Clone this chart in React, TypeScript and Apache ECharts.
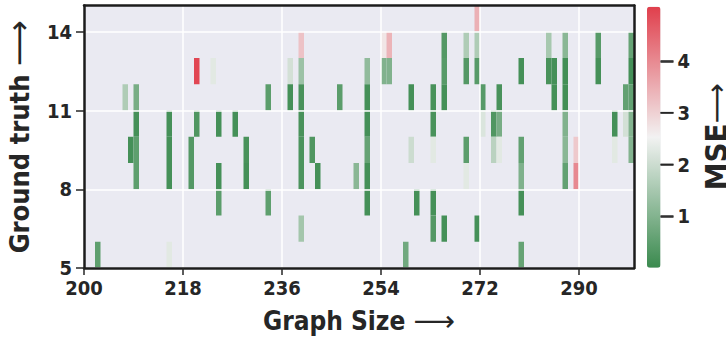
import React, { useEffect, useRef } from "react";
import * as echarts from "echarts";

// Each cell: graph size (x), ground truth (y), MSE (colour)
const graphSize = [
  202, 207, 208, 209, 209, 209, 209, 215, 215, 215, 215, 219, 219, 220, 220, 223,
  224, 224, 224, 227, 229, 229, 233, 233, 237, 237, 239, 239, 239, 239, 239, 239,
  239, 241, 242, 246, 249, 251, 251, 251, 251, 251, 251, 254, 254, 255, 255, 258,
  259, 259, 260, 263, 263, 263, 263, 263, 265, 265, 265, 265, 269, 269, 269, 269,
  271, 271, 271, 271, 272, 272, 274, 274, 275, 275, 275, 279, 279, 279, 279, 279,
  284, 284, 285, 285, 287, 287, 287, 287, 287, 287, 289, 289, 293, 293, 296, 296,
  298, 298, 299, 299, 299, 299, 299,
];
const groundTruth = [
  5, 11, 9, 11, 10, 9, 8, 10, 9, 8, 5, 9, 8, 12, 10, 12,
  10, 8, 7, 10, 9, 8, 11, 7, 12, 11, 13, 12, 11, 10, 9, 8,
  6, 9, 8, 11, 8, 12, 11, 10, 9, 8, 7, 13, 12, 13, 12, 5,
  11, 9, 7, 11, 10, 9, 7, 6, 13, 12, 11, 6, 13, 12, 9, 8,
  14, 13, 12, 6, 11, 10, 10, 9, 11, 10, 9, 12, 9, 8, 7, 5,
  13, 12, 12, 11, 13, 12, 11, 10, 9, 8, 9, 8, 13, 12, 10, 9,
  11, 10, 13, 12, 11, 10, 9,
];
const mseValues = [
  0.5, 1.6, 0.15, 0.85, 0.15, 0.5, 0.5, 0.15, 0.15, 0.15, 2.3, 0.35, 0.35, 4.95, 0.3, 2.3,
  0.15, 0.15, 0.45, 0.15, 0.2, 0.15, 0.45, 0.5, 2.1, 0.15, 3.2, 1.35, 0.2, 0.2, 0.25, 0.25,
  1.45, 0.3, 0.15, 0.45, 1.1, 1.2, 0.15, 0.15, 0.6, 0.15, 0.15, 2.7, 0.97, 3.4, 0.97, 0.75,
  0.15, 2.0, 0.15, 0.2, 0.2, 2.3, 0.15, 0.35, 0.35, 0.4, 0.15, 0.15, 1.6, 0.35, 0.45, 2.3,
  3.45, 1.6, 0.4, 0.15, 0.4, 2.2, 0.3, 1.75, 0.2, 0.85, 2.3, 0.15, 0.55, 0.95, 0.15, 0.6,
  1.5, 0.2, 0.15, 0.15, 1.1, 0.12, 0.12, 0.97, 1.1, 0.55, 3.1, 4.0, 0.4, 0.15, 0.15, 2.3,
  0.55, 2.1, 0.6, 0.15, 0.55, 1.0, 1.0,
];

const xTicks = [200, 218, 236, 254, 272, 290];
const yTicks = [5, 8, 11, 14];
const colorbarTicks = [1, 2, 3, 4];
const xRange = [200, 300];
const yRange = [5, 15];
const mseRange = [0, 5.05];
const mseAxisRange = [0, 5.08];

const FONT = "'DejaVu Sans Condensed', 'Liberation Sans Narrow', 'DejaVu Sans', sans-serif";
const ARROW_FONT = "'DejaVu Sans', sans-serif";
const INK = "#262626";

// colour-bar layout
const BAR_LEFT = 647;
const BAR_TOP = 6.7;
const BAR_W = 13.5;
const BAR_H = 261;

export default function App() {
  const ref = useRef<HTMLDivElement>(null);

  useEffect(() => {
    if (!ref.current) return;
    const chart = echarts.init(ref.current, undefined, { renderer: "svg" });
    const data = graphSize.map((x, i) => [x, groundTruth[i], mseValues[i]]);

    const labelStyle = { fontFamily: FONT, fontWeight: "bold", fontSize: 20, color: INK };
    const frameLine = { show: true, lineStyle: { color: "#1c1c1c", width: 2.5 } };

    // tick marks of the colour bar, placed on the colour bar's own value scale
    const barTicks = colorbarTicks.map((v) => {
      const frac = (v - mseRange[0]) / (mseRange[1] - mseRange[0]);
      const py = BAR_TOP + BAR_H * (1 - frac);
      return {
        type: "rect",
        z: 100,
        silent: true,
        shape: { x: BAR_LEFT + BAR_W, y: py - 0.75, width: 13, height: 1.5 },
        style: { fill: INK },
      };
    });

    chart.setOption({
      animation: false,
      grid: [
        {
          left: 84, right: 92, top: 5.5, bottom: 69, show: true, backgroundColor: "#eaeaf2", borderWidth: 0,
          containLabel: false, outerBoundsMode: "none",
        },
      ],
      xAxis: [
        {
          type: "value", gridIndex: 0, min: xRange[0], max: xRange[1], position: "bottom", z: 10,
          axisLine: frameLine,
          axisTick: { show: true, length: 7, lineStyle: { color: INK, width: 1.5 }, customValues: xTicks },
          axisLabel: { ...labelStyle, margin: 10, customValues: xTicks },
          splitLine: { show: true, lineStyle: { color: "#ffffff", width: 1.5 } },
          name: "{t|Graph Size }{a|⟶}",
          nameLocation: "middle",
          nameGap: 41,
          nameTextStyle: {
            rich: {
              t: { fontFamily: FONT, fontWeight: "bold", fontSize: 26, color: INK, lineHeight: 24 },
              a: { fontFamily: ARROW_FONT, fontWeight: "normal", fontSize: 29, color: INK, lineHeight: 24 },
            },
          },
        },
        {
          type: "value", gridIndex: 0, min: xRange[0], max: xRange[1], position: "top", z: 10,
          axisLine: frameLine, axisTick: { show: false }, axisLabel: { show: false }, splitLine: { show: false },
        },
      ],
      yAxis: [
        {
          type: "value", gridIndex: 0, min: yRange[0], max: yRange[1], position: "left", z: 10,
          axisLine: frameLine,
          axisTick: { show: true, length: 8, lineStyle: { color: INK, width: 1.5 }, customValues: yTicks },
          axisLabel: { ...labelStyle, margin: 12, customValues: yTicks },
          splitLine: { show: true, lineStyle: { color: "#ffffff", width: 1.5 } },
          name: "{t|Ground truth }{a|⟶}",
          nameLocation: "middle",
          nameRotate: 90,
          nameGap: 49,
          nameTextStyle: {
            rich: {
              t: { fontFamily: FONT, fontWeight: "bold", fontSize: 27, color: INK },
              a: { fontFamily: ARROW_FONT, fontWeight: "normal", fontSize: 32, color: INK },
            },
          },
        },
        {
          type: "value", gridIndex: 0, min: yRange[0], max: yRange[1], position: "right", z: 10,
          axisLine: frameLine, axisTick: { show: false }, axisLabel: { show: false }, splitLine: { show: false },
        },
        {
          // colour-bar scale, sitting on the right edge of the colour bar
          type: "value", gridIndex: 0, min: mseAxisRange[0], max: mseAxisRange[1], position: "right",
          offset: 26.5, z: 10,
          axisLine: { show: true, onZero: false, lineStyle: { color: "rgba(255,255,255,0)", width: 1 } },
          axisTick: { show: true, length: 13, lineStyle: { color: INK, width: 1.5 }, customValues: colorbarTicks },
          axisLabel: { ...labelStyle, margin: 17, customValues: colorbarTicks },
          splitLine: { show: false },
          name: "{m|MSE}{a|⟶}",
          nameLocation: "middle",
          nameRotate: 90,
          nameGap: 25,
          nameTextStyle: {
            rich: {
              m: { fontFamily: FONT, fontWeight: "bold", fontSize: 31, color: INK, lineHeight: 28 },
              a: { fontFamily: ARROW_FONT, fontWeight: "normal", fontSize: 28, color: INK, lineHeight: 28 },
            },
          },
        },
      ],
      visualMap: {
        type: "continuous",
        min: mseRange[0],
        max: mseRange[1],
        dimension: 2,
        seriesIndex: 0,
        calculable: false,
        hoverLink: false,
        orient: "vertical",
        left: BAR_LEFT,
        top: BAR_TOP,
        padding: 0,
        itemWidth: BAR_W,
        itemHeight: BAR_H,
        inRange: { color: ["#3a8a4e", "#f2f2f2", "#e03f4c"] },
      },
      graphic: barTicks,
      series: [
        {
          type: "custom",
          xAxisIndex: 0,
          yAxisIndex: 0,
          encode: { x: 0, y: 1 },
          data,
          renderItem: (params: any, api: any) => {
            const x = api.value(0);
            const y = api.value(1);
            const p0 = api.coord([x, y + 1]);
            const p1 = api.coord([x + 1, y]);
            return {
              type: "rect",
              shape: { x: p0[0], y: p0[1], width: p1[0] - p0[0], height: p1[1] - p0[1] },
              style: { fill: api.visual("color") },
            };
          },
        },
      ],
    });

    return () => chart.dispose();
  }, []);

  return (
    <div
      ref={ref}
      style={{ position: "fixed", left: 0, top: 0, width: 726, height: 337, background: "#ffffff" }}
    />
  );
}
